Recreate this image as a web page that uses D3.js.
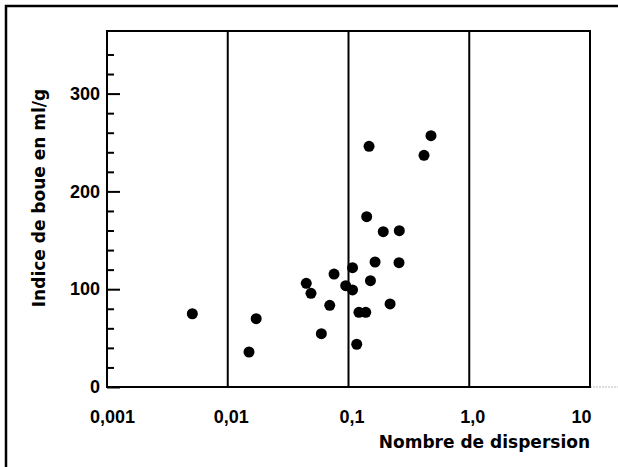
<!DOCTYPE html>
<html>
<head>
<meta charset="utf-8">
<script src="https://cdn.jsdelivr.net/npm/d3@7"></script>
<style>
  body { margin: 0; background: #fff; }
  svg { display: block; }
</style>
</head>
<body>
<script>
// données
var nombreDispersion = [0.00509, 0.0172, 0.0150, 0.0447, 0.0489, 0.0759, 0.0699, 0.0596,
  0.0948, 0.108, 0.108, 0.117, 0.122, 0.139, 0.152, 0.166, 0.1415, 0.148,
  0.194, 0.2635, 0.262, 0.221, 0.422, 0.482];
var indiceBoue = [74.9, 69.8, 35.8, 106.0, 95.8, 115.5, 83.5, 54.5,
  103.6, 99.2, 122.0, 43.7, 76.4, 76.4, 108.7, 127.8, 174.1, 246.1,
  158.8, 159.8, 127.1, 84.9, 236.9, 257.0];

var xTicks = [0.001, 0.01, 0.1, 1, 10];
var xTickLabels = ["0,001", "0,01", "0,1", "1,0", "10"];
var xGrid = [0.01, 0.1, 1];
var yTicks = [0, 100, 200, 300];
var yMinorTicks = [20, 40, 60, 80, 120, 140, 160, 180, 220, 240, 260, 280, 320, 340];

function dessiner() {
  var width = 618, height = 467;
  var left = 107, right = 590, top = 31, bottom = 387;

  var svg = d3.select("body").append("svg")
    .attr("width", width)
    .attr("height", height);

  svg.append("rect")
    .attr("width", width)
    .attr("height", height)
    .attr("fill", "#fff");

  //cadre extérieur (gauche + haut)
  svg.append("path")
    .attr("d", "M6," + height + "V6H" + width)
    .attr("fill", "none")
    .attr("stroke", "#000")
    .attr("stroke-width", 2.5);

  var x = d3.scaleLog().domain([0.001, 10]).range([left, right]);
  var y = d3.scaleLinear().domain([0, 364]).range([bottom, top]);

  //lignes verticales
  svg.selectAll(".grid")
    .data(xGrid)
    .enter().append("line")
    .attr("x1", function (d) { return x(d); })
    .attr("x2", function (d) { return x(d); })
    .attr("y1", top)
    .attr("y2", bottom)
    .attr("stroke", "#000")
    .attr("stroke-width", 2);

  //petit trait gris à droite de l'axe
  svg.append("line")
    .attr("x1", right)
    .attr("x2", width)
    .attr("y1", bottom)
    .attr("y2", bottom)
    .attr("stroke", "#bbb")
    .attr("stroke-width", 1)
    .attr("stroke-dasharray", "2,1");

  //axe y : graduations vers l'intérieur
  var yAxis = svg.append("g")
    .attr("transform", "translate(" + left + ",0)")
    .call(d3.axisLeft(y).tickValues(yTicks).tickSize(-13).tickPadding(7));
  yAxis.select(".domain").remove();
  yAxis.selectAll("line").attr("stroke-width", 2);
  yAxis.selectAll("text")
    .attr("font-family", "'Liberation Sans', Arial, sans-serif")
    .attr("font-weight", "bold")
    .attr("font-size", 18)
    .attr("fill", "#000");

  var yMinor = svg.append("g")
    .attr("transform", "translate(" + left + ",0)")
    .call(d3.axisLeft(y).tickValues(yMinorTicks).tickSize(-7).tickFormat(""));
  yMinor.select(".domain").remove();
  yMinor.selectAll("line").attr("stroke-width", 2);

  //axe x
  var xAxis = svg.append("g")
    .attr("transform", "translate(0," + bottom + ")")
    .call(d3.axisBottom(x).tickValues(xTicks).tickSize(0).tickPadding(23)
      .tickFormat(function (d, i) { return xTickLabels[i]; }));
  xAxis.select(".domain").remove();
  xAxis.selectAll("text")
    .attr("font-family", "'Liberation Sans', Arial, sans-serif")
    .attr("font-weight", "bold")
    .attr("font-size", 18)
    .attr("fill", "#000")
    .attr("dx", function (d, i) { return i === 0 ? 5 : (i === 4 ? 1 : 3); })
    .attr("text-anchor", function (d, i) { return i === 4 ? "end" : "middle"; });

  //cadre du graphique
  svg.append("rect")
    .attr("x", left)
    .attr("y", top)
    .attr("width", right - left)
    .attr("height", bottom - top)
    .attr("fill", "none")
    .attr("stroke", "#000")
    .attr("stroke-width", 2);

  //points
  svg.selectAll(".pt")
    .data(nombreDispersion)
    .enter().append("circle")
    .attr("cx", function (d) { return x(d); })
    .attr("cy", function (d, i) { return y(indiceBoue[i]); })
    .attr("r", 5.5)
    .attr("fill", "#000");

  //titres des axes
  svg.append("text")
    .attr("x", right)
    .attr("y", 448)
    .attr("text-anchor", "end")
    .attr("font-family", "'DejaVu Sans', sans-serif")
    .attr("font-weight", "bold")
    .attr("font-size", 17)
    .text("Nombre de dispersion");

  svg.append("text")
    .attr("transform", "translate(45,198) rotate(-90)")
    .attr("text-anchor", "middle")
    .attr("font-family", "'DejaVu Sans', sans-serif")
    .attr("font-weight", "bold")
    .attr("font-size", 17)
    .text("Indice de boue en ml/g");
}

dessiner();
</script>
</body>
</html>
